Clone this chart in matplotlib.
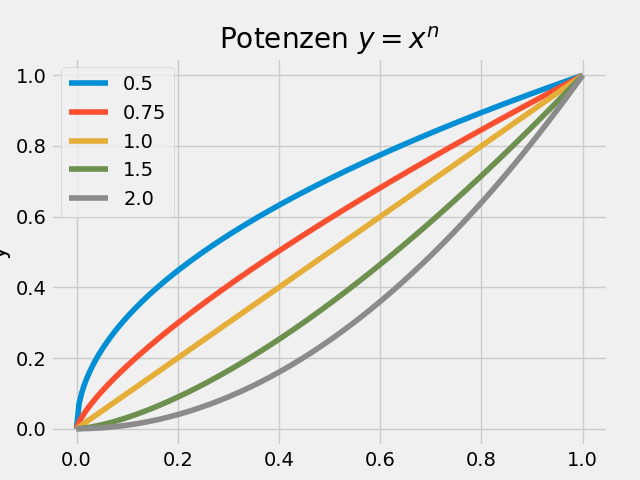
import numpy as np
import matplotlib
matplotlib.use('Agg')
import matplotlib.pyplot as plt

# Exponenten der Potenzfunktionen
exponents = [0.5, 0.75, 1.0, 1.5, 2.0]
x = np.linspace(0, 1, 200)

plt.style.use('fivethirtyeight')
fig, ax = plt.subplots(figsize=(6.4, 4.8), dpi=100)

for n in exponents:
    ax.plot(x, x ** n, label=str(n))

ax.set_title('Potenzen $y = x^n$')
ax.set_xlabel('x')
ax.set_ylabel('y')
ax.legend(loc='upper left')

fig.savefig('out.png', dpi=100)
